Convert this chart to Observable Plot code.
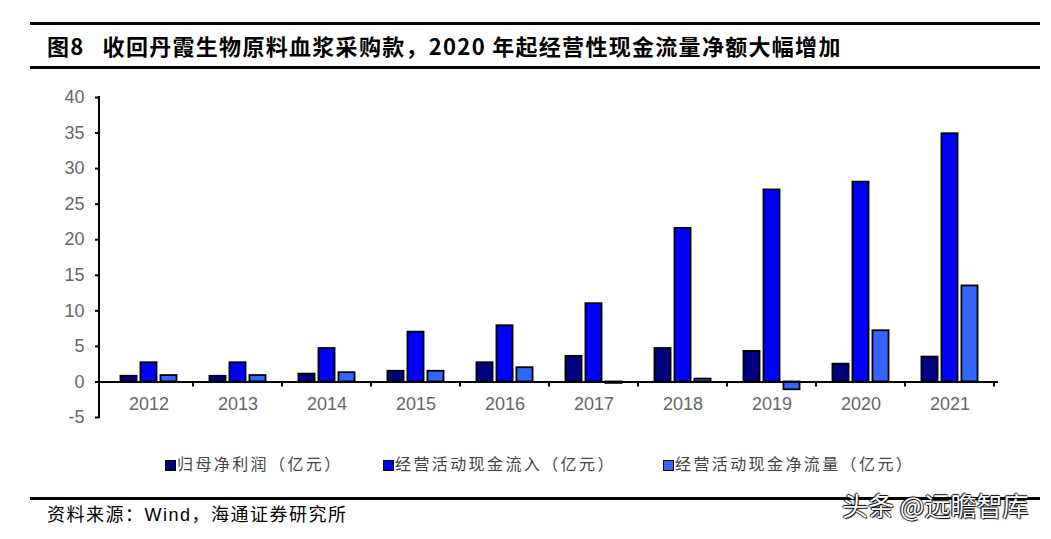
<!DOCTYPE html>
<html><head><meta charset="utf-8">
<script src="https://cdn.jsdelivr.net/npm/d3@7"></script>
<script src="https://cdn.jsdelivr.net/npm/@observablehq/plot@0.6"></script>
<style>
body{margin:0;background:#fff;}
#wrap{position:relative;width:1051px;height:539px;overflow:hidden;font-family:"Liberation Sans","Noto Sans CJK SC",sans-serif;}
.hr{position:absolute;left:30px;width:1010px;height:3px;background:#000;}
#title{position:absolute;left:47px;top:30px;font-family:"Noto Sans CJK SC",sans-serif;font-weight:bold;font-size:22px;line-height:30px;letter-spacing:1.3px;white-space:nowrap;color:#000;}
#chart{position:absolute;left:0;top:80px;}
.lg{position:absolute;top:453px;height:20px;line-height:20px;font-family:"Noto Sans CJK SC",sans-serif;font-size:16px;letter-spacing:2.4px;color:#444;white-space:nowrap;}
.lg i{display:inline-block;width:9px;height:9px;border:1px solid #000;margin-right:1px;vertical-align:-1px;}
#source{position:absolute;left:47px;top:504px;font-family:"Liberation Sans","Noto Sans CJK SC",sans-serif;font-size:18px;line-height:22px;letter-spacing:1.5px;color:#000;white-space:nowrap;}
#wm{position:absolute;left:842px;top:489px;font-family:"Noto Sans CJK SC",sans-serif;font-size:26px;line-height:32px;color:#fff;white-space:nowrap;text-shadow:1px 1px 1px #000,-1px 0 1px #000,0 -1px 1px #000;}
</style></head>
<body>
<div id="wrap">
  <div class="hr" style="top:22px"></div>
  <div id="title"><span>图8</span><span style="margin-left:18px">收回丹霞生物原料血浆采购款，2020 年起经营性现金流量净额大幅增加</span></div>
  <div class="hr" style="top:66px"></div>
  <div id="chart"></div>
  <div id="legend"></div>
  <div class="hr" style="top:497px"></div>
  <div id="source">资料来源：Wind，海通证券研究所</div>
  <div id="wm">头条 @远瞻智库</div>
</div>
<script>
const years = ["2012","2013","2014","2015","2016","2017","2018","2019","2020","2021"];
const netProfit = [0.8, 0.8, 1.1, 1.5, 2.7, 3.6, 4.7, 4.3, 2.5, 3.5];
const opInflow = [2.7, 2.7, 4.7, 7.0, 7.9, 11.0, 21.6, 27.0, 28.1, 34.9];
const opNetFlow = [0.9, 0.9, 1.3, 1.5, 2.0, -0.2, 0.4, -1.1, 7.2, 13.5];
const seriesNames = ["归母净利润（亿元）", "经营活动现金流入（亿元）", "经营活动现金净流量（亿元）"];
const seriesColors = ["#000080", "#0000FF", "#3366FF"];
const yTicks = [-5, 0, 5, 10, 15, 20, 25, 30, 35, 40];

const seriesValues = [netProfit, opInflow, opNetFlow];
const rows = [];
seriesNames.forEach((s, si) => years.forEach((y, i) => rows.push({year: y, series: s, value: seriesValues[si][i]})));

const W = 1051, H = 360, mL = 99, mR = 53, mT = 17, mB = 23;
const band = (W - mL - mR) / years.length;
const barW = 17, step = 20;
const inset = (band - barW) / 2;

const barMarks = seriesNames.map((s, si) => Plot.barY(rows.filter(d => d.series === s), {
  x: "year", y: "value", fill: seriesColors[si], stroke: "#000", strokeWidth: 1.8,
  insetLeft: inset, insetRight: inset, dx: (si - 1) * step
}));

const axisLines = (index, scales, values, dims) => {
  const g = d3.create("svg:g").attr("stroke", "#000").attr("stroke-width", 2);
  const x0 = dims.marginLeft;
  const y = scales.y;
  const bw = scales.x.bandwidth ? (typeof scales.x.bandwidth === "function" ? scales.x.bandwidth() : scales.x.bandwidth) : (dims.width - dims.marginLeft - dims.marginRight) / years.length;
  g.append("line").attr("x1", x0).attr("x2", x0).attr("y1", y(yTicks[yTicks.length - 1]) - 1).attr("y2", y(yTicks[0]) + 1);
  years.forEach(yr => {
    const xe = scales.x(yr) + bw;
    g.append("line").attr("x1", xe).attr("x2", xe).attr("y1", y(0)).attr("y2", y(0) + 5);
  });
  return g.node();
};

const chart = Plot.plot({
  width: W, height: H,
  marginLeft: mL, marginRight: mR, marginTop: mT, marginBottom: mB,
  style: {fontFamily: "'Liberation Sans', Arial, sans-serif", background: "#fff"},
  x: {domain: years, padding: 0, axis: null},
  y: {domain: [yTicks[0], yTicks[yTicks.length - 1]], label: null},
  marks: [
    ...barMarks,
    Plot.ruleY([0], {stroke: "#000", strokeWidth: 2}),
    axisLines,
    Plot.axisY({ticks: yTicks, tickFormat: d => String(d), tickSize: 4, tickPadding: 11, stroke: "#000", strokeWidth: 2, fill: "#666", fontSize: 18, label: null}),
    Plot.text(years, {x: d => d, y: () => 0, dy: 22, fill: "#666", fontSize: 18, text: d => d})
  ]
});
document.getElementById("chart").appendChild(chart);

const legendLeft = [165, 383, 663];
const lg = document.getElementById("legend");
seriesNames.forEach((s, i) => {
  const el = document.createElement("div");
  el.className = "lg";
  el.style.left = legendLeft[i] + "px";
  el.innerHTML = `<i style="background:${seriesColors[i]}"></i>${s}`;
  lg.appendChild(el);
});
</script>
</body></html>
